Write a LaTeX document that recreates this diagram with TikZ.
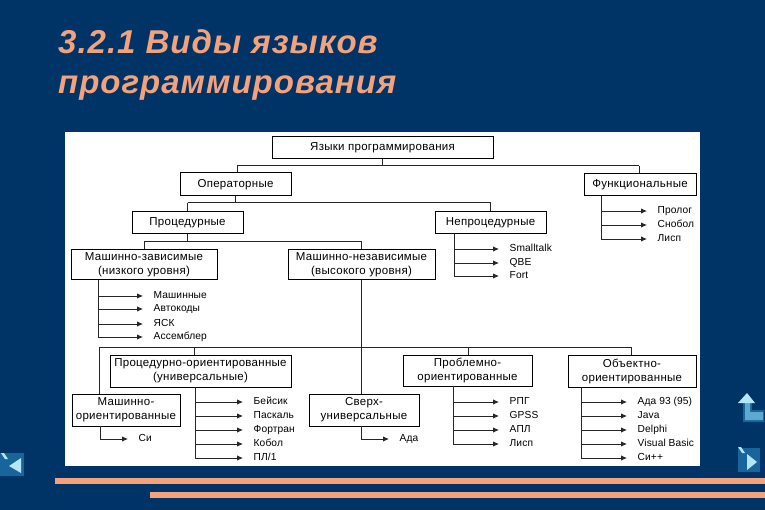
\documentclass[tikz,border=0pt]{standalone}
\usepackage{fontspec}
\setmainfont{Liberation Sans}
\usepackage{tikz}
\usetikzlibrary{arrows.meta}
\definecolor{slidebg}{HTML}{003366}
\definecolor{slideline}{HTML}{F4A27C}
\definecolor{navblue}{HTML}{17659A}
\definecolor{navmid}{HTML}{5FA8D0}
\definecolor{navlight}{HTML}{B5E6F7}
\tikzset{
  title text/.style={
    anchor=base west,inner sep=0pt,text=slideline,
    font=\fontsize{33}{33}\selectfont\bfseries\itshape\addfontfeature{LetterSpace=3}
  },
  lang box/.style={
    rectangle,draw=black,fill=white,line width=1pt,inner sep=0pt,
    align=center,font=\fontsize{11.5}{14}\selectfont\addfontfeature{LetterSpace=2.5}
  },
  lang edge/.style={black!85,line width=1pt},
  lang arrow/.style={black!85,line width=0.9pt,-{Latex[length=6pt,width=5.5pt]}},
  lang item/.style={
    anchor=west,inner xsep=10.5pt,inner ysep=0pt,text height=7pt,text depth=2pt,
    font=\fontsize{10.2}{12}\selectfont\addfontfeature{LetterSpace=1}
  }
}
\newcommand{\langitem}[5]{%
  \node[lang item] (#2) at (#4,#3) {#5};
  \draw[lang arrow] (#1 |- #2.west) -- (#2.west);
}
\begin{document}
\begin{tikzpicture}[x=1pt,y=-1pt]
  \fill[slidebg] (0,0) rectangle (765,510);
  \useasboundingbox (0,0) rectangle (765,510);
  \fill[white] (65,132) rectangle (700,466);
  \fill[slideline] (55,478) rectangle (765,484);
  \fill[slideline] (150,492) rectangle (765,498);
  \node[title text] (title1) at (58,54) {3.2.1 Виды языков};
  \node[title text] (title2) at (58,94) {программирования};
  % boxes
  \node[lang box,minimum width=221pt,minimum height=22pt] (root) at (382.5,147.5) {Языки программирования};
  \node[lang box,minimum width=111pt,minimum height=23pt] (oper) at (235.5,184.5) {Операторные};
  \node[lang box,minimum width=112pt,minimum height=22pt] (func) at (640,185) {Функциональные};
  \node[lang box,minimum width=111pt,minimum height=22pt] (proc) at (187.5,223) {Процедурные};
  \node[lang box,minimum width=111pt,minimum height=22pt] (nonproc) at (490.5,223) {Непроцедурные};
  \node[lang box,minimum width=146pt,minimum height=30pt] (mzav) at (144,265) {Машинно-зависимые\\(низкого уровня)};
  \node[lang box,minimum width=147pt,minimum height=30pt] (mnez) at (361.5,265) {Машинно-независимые\\(высокого уровня)};
  \node[lang box,minimum width=181pt,minimum height=32pt] (procor) at (200.5,371) {Процедурно-ориентированные\\(универсальные)};
  \node[lang box,minimum width=129pt,minimum height=31pt] (probl) at (467.5,370.5) {Проблемно-\\ориентированные};
  \node[lang box,minimum width=128pt,minimum height=32pt] (obj) at (632,371) {Объектно-\\ориентированные};
  \node[lang box,minimum width=108pt,minimum height=32pt] (machor) at (126,410) {Машинно-\\ориентированные};
  \node[lang box,minimum width=110pt,minimum height=32pt] (super) at (364,410) {Сверх-\\универсальные};
  % junctions
  \coordinate (bar1) at (382.5,166);
  \coordinate (bar2) at (235.5,203);
  \coordinate (bar3) at (187.5,242);
  \coordinate (stem1) at (237,166);
  \coordinate (stem2) at (639,166);
  \coordinate (stem3) at (99,347);
  \coordinate (stem4) at (194,347);
  \coordinate (stem5) at (468,347);
  \coordinate (stem6) at (631,347);
  \coordinate (trunkmzav) at (98,280);
  \coordinate (trunkfunc) at (601,196);
  \coordinate (trunknon) at (454,234);
  \coordinate (trunkproc) at (195,387);
  \coordinate (trunkmach) at (100,426);
  \coordinate (trunksuper) at (361,426);
  \coordinate (trunkprobl) at (453,386);
  \coordinate (trunkobj) at (581,387);
  \draw[lang edge] (root.south) -- (bar1) (stem1) -- (stem2)
    (stem1) -- (stem1 |- oper.north) (stem2) -- (stem2 |- func.north);
  \draw[lang edge] (oper.south) -- (bar2) (proc.north |- bar2) -- (nonproc.north |- bar2)
    (proc.north |- bar2) -- (proc.north) (nonproc.north |- bar2) -- (nonproc.north);
  \draw[lang edge] (proc.south) -- (bar3) (mzav.north |- bar3) -- (mnez.north |- bar3)
    (mzav.north |- bar3) -- (mzav.north) (mnez.north |- bar3) -- (mnez.north);
  \draw[lang edge] (mnez.south) -- (mnez.south |- super.north);
  \draw[lang edge] (stem3) -- (stem6)
    (stem3) -- (stem3 |- machor.north) (stem4) -- (stem4 |- procor.north)
    (stem5) -- (stem5 |- probl.north) (stem6) -- (stem6 |- obj.north);
  % lists
  \langitem{trunkmzav}{mzava}{296}{143}{Машинные}
  \langitem{trunkmzav}{mzavb}{309}{143}{Автокоды}
  \langitem{trunkmzav}{mzavc}{324}{143}{ЯСК}
  \langitem{trunkmzav}{mzavd}{337}{143}{Ассемблер}
  \draw[lang edge] (trunkmzav) -- (trunkmzav |- mzavd.west);
  \langitem{trunkfunc}{funca}{211}{647}{Пролог}
  \langitem{trunkfunc}{funcb}{225}{647}{Снобол}
  \langitem{trunkfunc}{funcc}{239}{647}{Лисп}
  \draw[lang edge] (trunkfunc) -- (trunkfunc |- funcc.west);
  \langitem{trunknon}{nona}{249}{499}{Smalltalk}
  \langitem{trunknon}{nonb}{263}{499}{QBE}
  \langitem{trunknon}{nonc}{276}{499}{Fort}
  \draw[lang edge] (trunknon) -- (trunknon |- nonc.west);
  \langitem{trunkproc}{proca}{402}{243}{Бейсик}
  \langitem{trunkproc}{procb}{416}{243}{Паскаль}
  \langitem{trunkproc}{procc}{430}{243}{Фортран}
  \langitem{trunkproc}{procd}{444}{243}{Кобол}
  \langitem{trunkproc}{proce}{458}{243}{ПЛ/1}
  \draw[lang edge] (trunkproc) -- (trunkproc |- proce.west);
  \langitem{trunkmach}{macha}{439}{128}{Си}
  \draw[lang edge] (trunkmach) -- (trunkmach |- macha.west);
  \langitem{trunksuper}{supera}{439}{389}{Ада}
  \draw[lang edge] (trunksuper) -- (trunksuper |- supera.west);
  \langitem{trunkprobl}{probla}{402}{499}{РПГ}
  \langitem{trunkprobl}{problb}{416}{499}{GPSS}
  \langitem{trunkprobl}{problc}{430}{499}{АПЛ}
  \langitem{trunkprobl}{probld}{444}{499}{Лисп}
  \draw[lang edge] (trunkprobl) -- (trunkprobl |- probld.west);
  \langitem{trunkobj}{obja}{402}{627}{Ада 93 (95)}
  \langitem{trunkobj}{objb}{416}{627}{Java}
  \langitem{trunkobj}{objc}{430}{627}{Delphi}
  \langitem{trunkobj}{objd}{444}{627}{Visual Basic}
  \langitem{trunkobj}{obje}{458}{627}{Си++}
  \draw[lang edge] (trunkobj) -- (trunkobj |- obje.west);
  % buttons
  \fill[navblue] (743,403) -- (752,403) -- (752,410) -- (764,410) -- (764,422) -- (743,422) -- cycle;
  \fill[navmid] (745,403) -- (750,403) -- (750,412) -- (763,412) -- (763,420) -- (745,420) -- cycle;
  \fill[navlight] (738,403) -- (747,393) -- (755,403) -- cycle;
  \fill[navblue] (738,448) rectangle (760,472);
  \fill[navlight] (738,447) -- (741,447) -- (745,453) -- (742,453) -- cycle;
  \fill[navlight] (747,454) -- (757,462) -- (747,470) -- cycle;
  \fill[navblue] (0,453) rectangle (24,476);
  \fill[navlight] (1,453) -- (4,453) -- (8,459) -- (5,459) -- cycle;
  \fill[navlight] (21,458) -- (9,466) -- (21,473) -- cycle;
\end{tikzpicture}
\end{document}
